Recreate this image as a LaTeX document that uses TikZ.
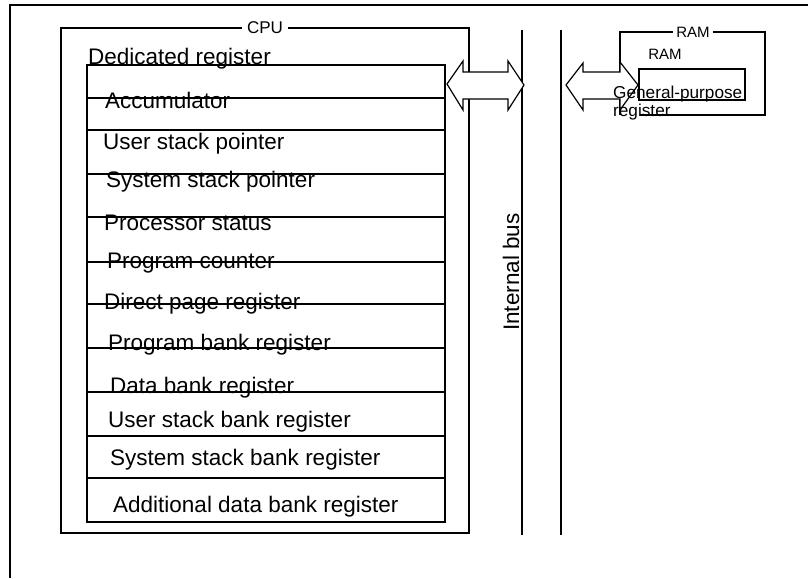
\documentclass[tikz,border=0pt]{standalone}
\usepackage{fontspec}
\setmainfont{Liberation Sans}
\begin{document}
\begin{tikzpicture}[x=1pt,y=-1pt,
  thin line/.style={line width=1.2pt},
  bus line/.style={line width=2.4pt},
  reglabel/.style={anchor=base west,inner sep=0pt,font=\fontsize{22.5}{25}\selectfont},
  smalllabel/.style={inner sep=3pt,fill=white,font=\fontsize{15}{17}\selectfont},
  gplabel/.style={anchor=base west,inner sep=0pt,font=\fontsize{17.2}{19}\selectfont},
  dblarrow/.style={line width=1.2pt,fill=white,line join=miter}]
\useasboundingbox (0,0) rectangle (808,578);
% outer frame (top and left edges)
\draw[line width=2.6pt] (10,578) -- (10,5) -- (808,5);
% CPU box
\draw[thin line] (61,28) rectangle (469,533);
\node[smalllabel,font=\fontsize{17}{19}\selectfont,inner sep=5pt] (cpu) at (265,28) {CPU};
% dedicated register block
\node[reglabel] (ded) at (88,65) {Dedicated register};
\draw[thin line] (87,65) rectangle (445,522);
\foreach \y in {98,130,174,217,262,304,348,392,436,478}
  \draw[thin line] (87,\y) -- (445,\y);
\node[reglabel] (acc) at (105,108) {Accumulator};
\node[reglabel] (usp) at (103,149) {User stack pointer};
\node[reglabel] (ssp) at (106,187) {System stack pointer};
\node[reglabel] (ps)  at (104,230) {Processor status};
\node[reglabel] (pc)  at (107,268) {Program counter};
\node[reglabel] (dpr) at (104,309) {Direct page register};
\node[reglabel] (pbr) at (108,350) {Program bank register};
\node[reglabel] (dbr) at (110,393) {Data bank register};
\node[reglabel] (usb) at (108,427) {User stack bank register};
\node[reglabel] (ssb) at (110,465) {System stack bank register};
\node[reglabel] (adb) at (113,512) {Additional data bank register};
% internal bus
\draw[bus line] (522,30) -- (522,535);
\draw[bus line] (561,30) -- (561,535);
\node[rotate=90,inner sep=0pt,font=\fontsize{22.5}{25}\selectfont] (bus) at (511,272) {Internal bus};
% RAM box
\draw[thin line] (620,115) -- (620,32) -- (765,32) -- (765,115) -- (640,115);
\node[smalllabel] (ramo) at (693,32) {RAM};
\node[inner sep=0pt,font=\fontsize{15}{17}\selectfont] (rami) at (665,54) {RAM};
\draw[thin line] (639,69) rectangle (745,100);
% double arrows
\draw[dblarrow] (447,84) -- (463,61) -- (463,72) -- (508,72) -- (508,61) -- (524,85)
  -- (508,110) -- (508,99) -- (463,99) -- (463,110) -- cycle;
\draw[dblarrow] (566,85) -- (583,63) -- (583,72) -- (620,72) -- (620,62) -- (638,85)
  -- (620,110) -- (620,99) -- (583,99) -- (583,110) -- cycle;
\node[gplabel] (gp1) at (613,98) {General-purpose};
\node[gplabel] (gp2) at (613,116) {register};
\end{tikzpicture}
\end{document}
